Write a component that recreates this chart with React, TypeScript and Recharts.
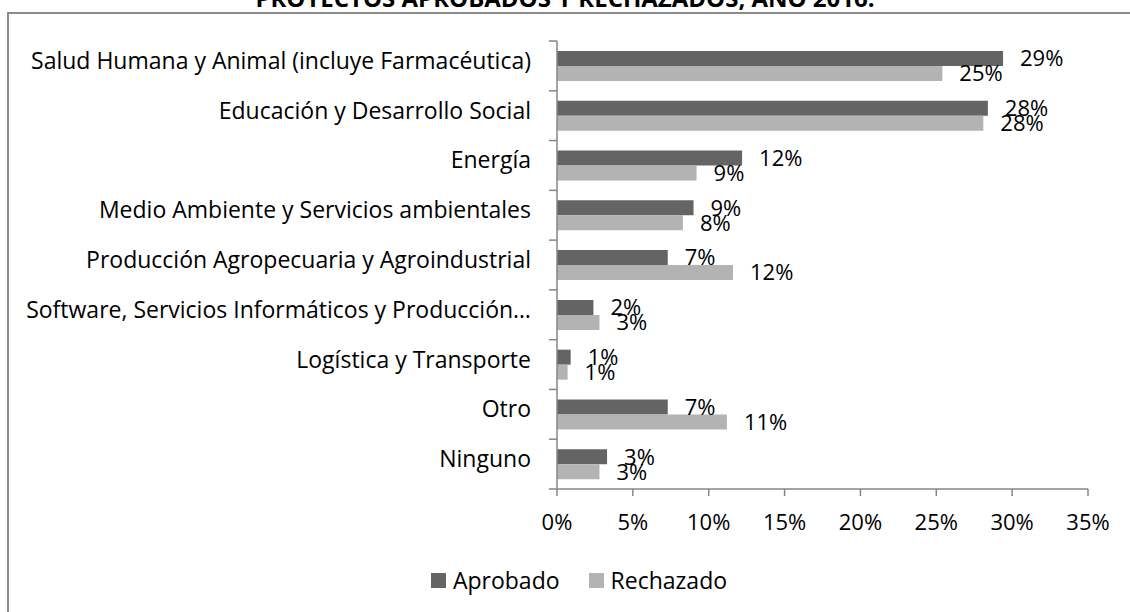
import React from 'react';
import { BarChart, Bar, XAxis, YAxis, Legend, LabelList } from 'recharts';

const categories = [
  'Salud Humana y Animal (incluye Farmacéutica)',
  'Educación y Desarrollo Social',
  'Energía',
  'Medio Ambiente y Servicios ambientales',
  'Producción Agropecuaria y Agroindustrial',
  'Software, Servicios Informáticos y Producción…',
  'Logística y Transporte',
  'Otro',
  'Ninguno',
];
const aprobado = [29.4, 28.4, 12.2, 9.0, 7.3, 2.4, 0.9, 7.3, 3.3];
const rechazado = [25.4, 28.1, 9.2, 8.3, 11.6, 2.8, 0.7, 11.2, 2.8];
const xTicks = [0, 5, 10, 15, 20, 25, 30, 35];
const seriesNames = ['Aprobado', 'Rechazado'];
const title = 'PROYECTOS APROBADOS Y RECHAZADOS, AÑO 2016.';

const data = categories.map((c, i) => ({ cat: c, Aprobado: aprobado[i], Rechazado: rechazado[i] }));

const W = 1130;
const H = 612;
const PLOT_LEFT = 557;
const PLOT_RIGHT = 1088;
const PLOT_TOP = 41;
const PLOT_BOTTOM = 489;
const LEGEND_H = 30;
const LEGEND_BOTTOM = 17;
const XAXIS_H = H - LEGEND_BOTTOM - LEGEND_H - PLOT_BOTTOM;
const BAND = (PLOT_BOTTOM - PLOT_TOP) / categories.length;
const AXIS_COLOR = '#868686';
const DARK = '#646464';
const LIGHT = '#b3b3b3';
const FONT = '"Open Sans", sans-serif';

const CatTick = (props: any) => {
  const { y, payload, index } = props;
  const half = BAND / 2;
  return (
    <g>
      <line x1={PLOT_LEFT - 8} x2={PLOT_LEFT} y1={y - half} y2={y - half} stroke={AXIS_COLOR} strokeWidth={1.5} />
      {index === categories.length - 1 && (
        <line x1={PLOT_LEFT - 8} x2={PLOT_LEFT} y1={y + half} y2={y + half} stroke={AXIS_COLOR} strokeWidth={1.5} />
      )}
      <text x={PLOT_LEFT - 26} y={y} dy={3} textAnchor="end" fill="#000" fontSize={23} fontFamily={FONT}>
        {payload.value}
      </text>
    </g>
  );
};

const LegendContent = () => (
  <div style={{ height: LEGEND_H, display: 'flex', justifyContent: 'center', alignItems: 'center', fontFamily: FONT, fontSize: 23, color: '#000', paddingLeft: 28, boxSizing: 'border-box' }}>
    {seriesNames.map((n, i) => (
      <div key={n} style={{ display: 'flex', alignItems: 'center', marginRight: i === 0 ? 29 : 0 }}>
        <span style={{ display: 'inline-block', width: 15, height: 15, background: i === 0 ? DARK : LIGHT, marginRight: 7 }} />
        <span>{n}</span>
      </div>
    ))}
  </div>
);

const pct = (v: any) => `${Math.round(v)}%`;

export default function App() {
  return (
    <div style={{ position: 'absolute', left: 0, top: 0, width: W, height: H, background: '#fff', overflow: 'hidden', fontFamily: FONT }}>
      <div style={{ position: 'absolute', left: 7, top: 12, width: W, height: H, borderLeft: '2px solid #8c8c8c', borderTop: '2px solid #8c8c8c' }} />
      <svg style={{ position: 'absolute', left: 0, top: 0 }} width={W} height={20}>
        <text x={565} y={7} textAnchor="middle" fontWeight="bold" fontSize={24} fontFamily={FONT} fill="#000">
          {title}
        </text>
      </svg>
      <div style={{ position: 'absolute', left: 0, top: 0 }}>
        <BarChart
          width={W}
          height={H}
          data={data}
          layout="vertical"
          barCategoryGap={10}
          barGap={0}
          margin={{ top: PLOT_TOP, right: W - PLOT_RIGHT, left: 0, bottom: LEGEND_BOTTOM }}
        >
          <XAxis
            type="number"
            domain={[0, 35]}
            ticks={xTicks}
            tickFormatter={(v: number) => `${v}%`}
            height={XAXIS_H}
            stroke={AXIS_COLOR}
            strokeWidth={1.5}
            tickSize={7}
            tickMargin={18}
            tick={{ fill: '#000', fontSize: 22, fontFamily: FONT }}
            interval={0}
          />
          <YAxis
            type="category"
            dataKey="cat"
            width={PLOT_LEFT}
            stroke={AXIS_COLOR}
            strokeWidth={1.5}
            tickLine={false}
            tickSize={0}
            tick={<CatTick />}
            interval={0}
          />
          <Legend verticalAlign="bottom" content={<LegendContent />} wrapperStyle={{ left: 0, width: W }} />
          <Bar dataKey="Aprobado" fill={DARK} isAnimationActive={false}>
            <LabelList dataKey="Aprobado" position="right" offset={17} formatter={pct} fill="#000" fontSize={22} fontFamily={FONT} />
          </Bar>
          <Bar dataKey="Rechazado" fill={LIGHT} isAnimationActive={false}>
            <LabelList dataKey="Rechazado" position="right" offset={17} formatter={pct} fill="#000" fontSize={22} fontFamily={FONT} />
          </Bar>
        </BarChart>
      </div>
    </div>
  );
}
